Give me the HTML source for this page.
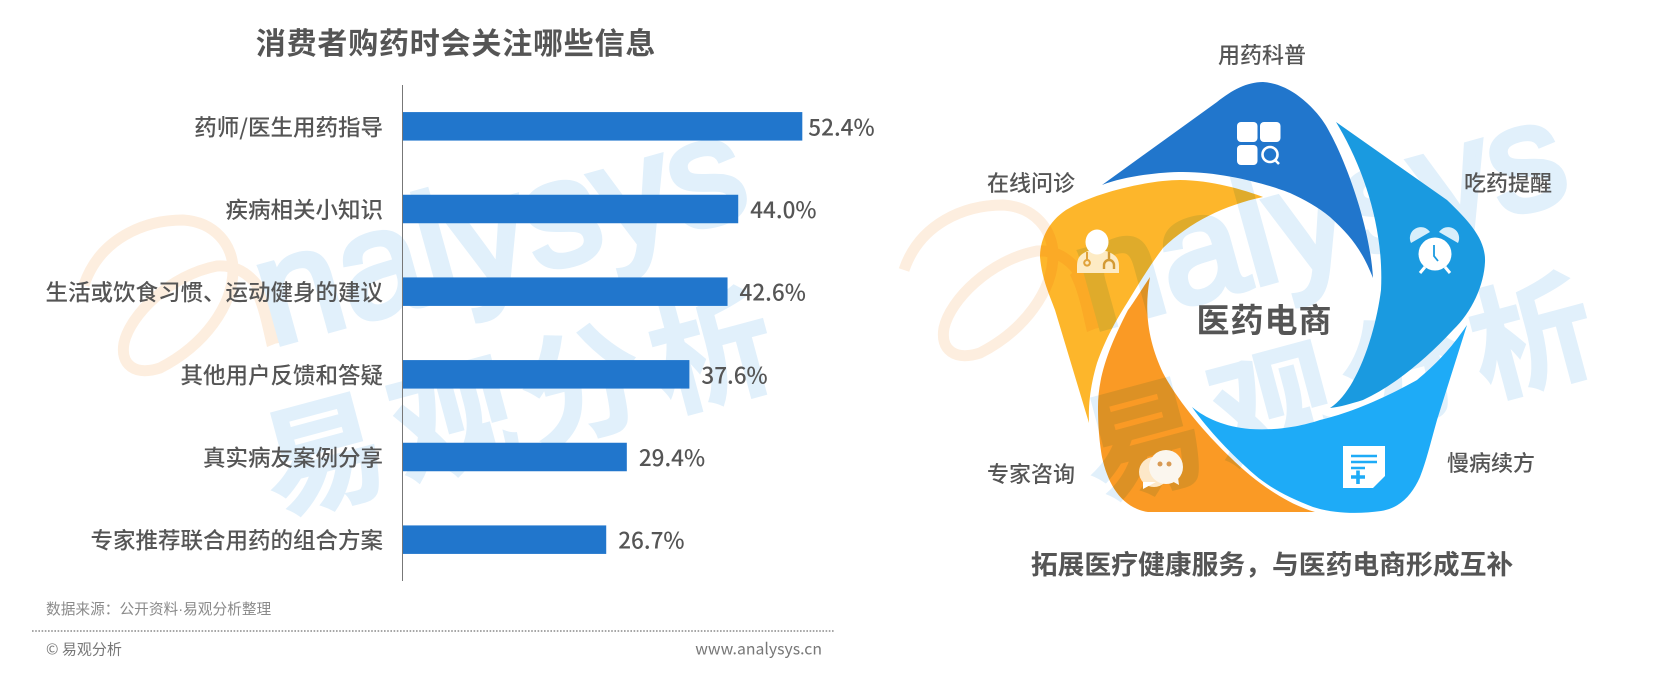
<!DOCTYPE html>
<html lang="zh">
<head>
<meta charset="utf-8">
<title>消费者购药时会关注哪些信息</title>
<style>
html,body{margin:0;padding:0;background:#fff;width:1662px;height:678px;overflow:hidden}
svg{display:block}
text{font-family:"Liberation Sans","Noto Sans CJK SC",sans-serif}
.cjk{font-family:"Noto Sans CJK SC","Liberation Sans",sans-serif}
.wm-t{fill:#e1f0fb;stroke:#e1f0fb;stroke-width:6;font-family:"Liberation Sans",sans-serif;font-weight:400}
.wm-c{fill:#e1f0fb;stroke:#e1f0fb;stroke-width:2;font-family:"Noto Sans CJK SC",sans-serif;font-weight:700}
.wm-ring{fill:none;stroke:#fdeedf;stroke-width:11;stroke-linecap:butt}
.wm-end{fill:#fdeedf}
</style>
</head>
<body>
<svg id="root" xmlns="http://www.w3.org/2000/svg" width="1662" height="678" viewBox="0 0 1662 678">
  <rect width="1662" height="678" fill="#fff"/>

  <g>
    <path class="wm-ring" d="M84,285 C100,238 145,220 183,220 C215,222 233,245 233,270 C233,305 205,345 160,368 C135,376 120,365 124,343 C130,315 170,275 217,266 C250,264 272,295 279,343"/>
    <path class="wm-end" d="M255,285 C268,300 288,320 292,337 L267,347 C262,325 258,305 250,290 Z"/>
    <text class="wm-t" font-size="150" transform="translate(272,346) rotate(-15.500)">nalysys</text>
    <text class="wm-c" font-size="122" letter-spacing="12" transform="translate(276,514) rotate(-15)">易观分析</text>
  </g>
  <g transform="translate(820,-15)">
    <path class="wm-ring" d="M84,285 C100,238 145,220 183,220 C215,222 233,245 233,270 C233,305 205,345 160,368 C135,376 120,365 124,343 C130,315 170,275 217,266 C250,264 272,295 279,343"/>
    <path class="wm-end" d="M255,285 C268,300 288,320 292,337 L267,347 C262,325 258,305 250,290 Z"/>
    <text class="wm-t" font-size="150" transform="translate(272,346) rotate(-15.500)">nalysys</text>
    <text class="wm-c" font-size="122" letter-spacing="12" transform="translate(276,514) rotate(-15)">易观分析</text>
  </g>

  <text class="cjk" x="456" y="54" text-anchor="middle" font-size="30" font-weight="700" letter-spacing="0.8" fill="#555">消费者购药时会关注哪些信息</text>
  <g id="chart"></g>

  <text x="46" y="614" font-size="14.700" fill="#8a8a8a">数据来源&#xFF1A;公开资料·易观分析整理</text>
  <line x1="32" y1="631" x2="835" y2="631" stroke="#8a8a8a" stroke-width="1.6" stroke-dasharray="1.6 1.6"/>
  <text class="cjk" x="46" y="654.500" font-size="15" fill="#777">© 易观分析</text>
  <text class="cjk" x="822" y="654.500" text-anchor="end" font-size="15.800" fill="#777">www.analysys.cn</text>

  <g>
    <path fill="#1a9ae0" d="M1336,122 L1447,200 C1470,222 1486,240 1485,262 C1484,285 1472,312 1453,330 C1425,360 1395,385 1363,400 C1350,404 1340,407 1330,408 C1358,390 1376,330 1381,290 C1384,230 1365,170 1336,122 Z"/>
    <path fill="#2176cc" d="M1102,185 L1217,102 C1232,90 1247,82 1263,82 C1280,83 1295,92 1307,103 C1320,115 1326,125 1330,133 C1345,160 1370,225 1373,278 C1362,250 1350,235 1330,217 C1318,207 1305,200 1290,193 C1270,185 1225,172 1183,172 C1160,172 1125,176 1102,185 Z"/>
    <path fill="#fdb62b" style="mix-blend-mode:multiply" d="M1263,197 C1245,190 1210,180 1180,180 C1150,180 1095,192 1066,210 C1048,222 1040,240 1040,257 C1042,280 1050,296 1055,310 L1089,423 C1088,400 1092,380 1097,363 C1106,338 1115,322 1127,303 C1138,285 1150,265 1163,248 C1190,222 1225,205 1263,197 Z"/>
    <path fill="#fa9a25" style="mix-blend-mode:multiply" d="M1150,277 C1138,295 1132,305 1128,310 C1110,345 1098,375 1098,407 C1098,430 1100,445 1102,457 C1108,485 1122,508 1148,512 L1315,512 C1290,505 1258,485 1230,457 C1210,438 1180,405 1163,373 C1150,345 1143,315 1150,277 Z"/>
    <path fill="#1eabf7" d="M1467,325 L1437,420 C1430,445 1426,462 1420,477 C1412,495 1400,508 1381,511 C1360,514 1335,514 1313,507 C1290,498 1270,488 1255,475 C1232,455 1208,430 1192,407 C1205,418 1225,427 1250,429 C1280,431 1305,425 1320,420 C1350,413 1385,398 1417,380 C1435,365 1450,350 1467,325 Z"/>

    <g fill="#fff">
      <rect x="1237" y="122" width="20.500" height="20" rx="4"/>
      <rect x="1260" y="122" width="20.500" height="20" rx="4"/>
      <rect x="1237" y="145" width="20.500" height="20" rx="4"/>
      <circle cx="1270" cy="154.500" r="7.500" fill="none" stroke="#fff" stroke-width="2.600"/>
      <line x1="1275" y1="160" x2="1279" y2="164" stroke="#fff" stroke-width="2.600"/>
    </g>
    <g>
      <path d="M1411,243 A11,11 0 0 1 1430,232 Z M1458,243 A11,11 0 0 0 1439,232 Z" fill="#d7eefb"/>
      <circle cx="1435" cy="254" r="16.500" fill="#fff"/>
      <path d="M1434,245 V256 L1438,261" fill="none" stroke="#1a9ae0" stroke-width="1.800"/>
      <path d="M1425,267 L1420,273 M1445,267 L1450,273" stroke="#fff" stroke-width="3"/>
    </g>
    <g>
      <path d="M1077,273 V266 C1077,258 1080,254 1088,251 L1106,251 C1115,254 1119,258 1119,266 V273 Z" fill="#fdebc4"/>
      <ellipse cx="1097" cy="242" rx="11.500" ry="12.500" fill="#fff"/>
      <path d="M1087,252 V260 M1087,260 A2.800,2.800 0 1 0 1087.100,260" fill="none" stroke="#e0a23a" stroke-width="2"/>
      <path d="M1104,269 V265 A5,5 0 0 1 1114,265 V269 M1109,260 V252" fill="none" stroke="#d39a34" stroke-width="2.400"/>
    </g>
    <g>
      <circle cx="1154" cy="472" r="15" fill="#fde8c8"/>
      <path d="M1143,482 L1143,489 L1156,482 Z" fill="#fff"/>
      <circle cx="1166" cy="467" r="17" fill="#fbf6ee"/>
      <path d="M1170,480 L1179,485 L1177,470 Z" fill="#fbf6ee"/>
      <circle cx="1160" cy="464" r="2.500" fill="#d89a55"/>
      <circle cx="1169" cy="464" r="2.500" fill="#d89a55"/>
    </g>
    <g>
      <path d="M1343,446 H1385 V476 L1373,488 H1343 Z" fill="#fff"/>
      <path d="M1351,456 H1377 M1351,462 H1377 M1351,468 H1365" stroke="#1eabf7" stroke-width="2.600"/>
      <path d="M1351,477 H1365 M1358,470.500 V484" stroke="#1eabf7" stroke-width="3.600"/>
    </g>

    <text class="cjk" x="1264.500" y="332" text-anchor="middle" font-size="33" font-weight="700" letter-spacing="1" fill="#555">医药电商</text>
    <g font-size="22" font-weight="500" fill="#555" text-anchor="middle">
      <text class="cjk" x="1262" y="63">用药科普</text>
      <text class="cjk" x="1031" y="191">在线问诊</text>
      <text class="cjk" x="1508" y="191">吃药提醒</text>
      <text class="cjk" x="1491" y="471">慢病续方</text>
      <text class="cjk" x="1031" y="482">专家咨询</text>
    </g>
  </g>
  <text class="cjk" x="1272" y="574" text-anchor="middle" font-size="26.800" font-weight="700" fill="#555">拓展医疗健康服务&#xFF0C;与医药电商形成互补</text>
</svg>

<script>
const categories = ['药师/医生用药指导','疾病相关小知识','生活或饮食习惯、运动健身的建议','其他用户反馈和答疑','真实病友案例分享','专家推荐联合用药的组合方案'];
const seriesValues = [52.4,44.0,42.6,37.6,29.4,26.7];
const valueLabels = ['52.4%','44.0%','42.6%','37.6%','29.4%','26.7%'];

const NS = 'http://www.w3.org/2000/svg';
const plot = {left:402.5, top:85, bottom:581, pxPerUnit:7.63, barHeight:28.5};
function xScale(v){ return plot.left + v * plot.pxPerUnit; }
function yBand(i){ return plot.top + (i + 0.5) * (plot.bottom - plot.top) / categories.length; }

const chart = document.getElementById('chart');
categories.forEach(function(cat, i){
  const cy = yBand(i);
  const label = document.createElementNS(NS,'text');
  
  
  label.setAttribute('class','cjk');
  label.setAttribute('x', plot.left - 19.5);
  label.setAttribute('y', cy + 9);
  label.setAttribute('text-anchor','end');
  label.setAttribute('font-size','22.500');
  label.setAttribute('font-weight','500');
  label.setAttribute('fill','#555');
  label.textContent = cat;
  chart.appendChild(label);

  const bar = document.createElementNS(NS,'rect');
  
  
  bar.setAttribute('x', plot.left);
  bar.setAttribute('y', cy - plot.barHeight / 2);
  bar.setAttribute('width', xScale(seriesValues[i]) - plot.left);
  bar.setAttribute('height', plot.barHeight);
  bar.setAttribute('fill','#2176cc');
  chart.appendChild(bar);

  const val = document.createElementNS(NS,'text');
  
  
  val.setAttribute('class','cjk');
  val.setAttribute('x', xScale(seriesValues[i]) + (seriesValues[i] > 50 ? 6 : 12));
  val.setAttribute('y', cy + 9);
  val.setAttribute('font-size','22.500');
  val.setAttribute('font-weight','500');
  val.setAttribute('fill','#555');
  val.textContent = valueLabels[i];
  chart.appendChild(val);
});

const axis = document.createElementNS(NS,'line');


axis.setAttribute('x1', plot.left);
axis.setAttribute('x2', plot.left);
axis.setAttribute('y1', plot.top);
axis.setAttribute('y2', plot.bottom);
axis.setAttribute('stroke','#777');
axis.setAttribute('stroke-width','1');
chart.appendChild(axis);
</script>
</body>
</html>
